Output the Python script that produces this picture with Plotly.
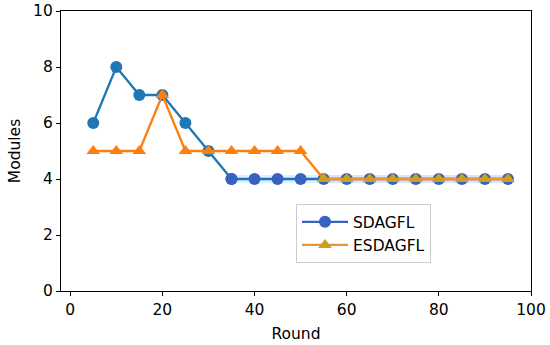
import plotly.graph_objects as go

rounds = [5, 10, 15, 20, 25, 30, 35, 40, 45, 50, 55, 60, 65, 70, 75, 80, 85, 90, 95]
sdagfl = [6, 8, 7, 7, 6, 5, 4, 4, 4, 4, 4, 4, 4, 4, 4, 4, 4, 4, 4]
esdagfl = [5, 5, 5, 7, 5, 5, 5, 5, 5, 5, 4, 4, 4, 4, 4, 4, 4, 4, 4]

BLUE = "#1f77b4"
BLUE2 = "#3862c0"
ORANGE = "#ff7f0e"
ORANGE2 = "#eb9530"
GOLD = "#c9a21a"

i35 = rounds.index(35)
i55 = rounds.index(55)

fig = go.Figure()
# halo glows
fig.add_trace(go.Scatter(x=rounds[i35:], y=sdagfl[i35:], mode="lines",
                         line=dict(color="rgba(120,235,255,0.35)", width=8),
                         showlegend=False, hoverinfo="skip"))
fig.add_trace(go.Scatter(x=rounds[i55:], y=esdagfl[i55:], mode="lines",
                         line=dict(color="rgba(255,185,215,0.35)", width=8),
                         showlegend=False, hoverinfo="skip"))
# SDAGFL
fig.add_trace(go.Scatter(x=rounds[:i35 + 1], y=sdagfl[:i35 + 1], mode="lines+markers",
                         line=dict(color=BLUE, width=2.3),
                         marker=dict(symbol="circle", size=12, color=BLUE),
                         showlegend=False))
fig.add_trace(go.Scatter(x=rounds[i35:], y=sdagfl[i35:], mode="lines+markers",
                         name="SDAGFL",
                         line=dict(color=BLUE2, width=2.3),
                         marker=dict(symbol="circle", size=12, color=BLUE2)))
# ESDAGFL
fig.add_trace(go.Scatter(x=rounds[:i55 + 1], y=esdagfl[:i55 + 1], mode="lines+markers",
                         line=dict(color=ORANGE, width=2.3),
                         marker=dict(symbol="triangle-up", size=12, color=ORANGE),
                         showlegend=False))
fig.add_trace(go.Scatter(x=rounds[i55:], y=esdagfl[i55:], mode="lines+markers",
                         name="ESDAGFL",
                         line=dict(color=ORANGE2, width=2.3),
                         marker=dict(symbol="triangle-up", size=12, color=GOLD)))

axis_common = dict(showline=True, linecolor="black", linewidth=1.2, mirror=True,
                   ticks="outside", ticklen=4, tickcolor="black", showgrid=False,
                   zeroline=False, automargin=False,
                   tickfont=dict(size=15.5, color="black"))

fig.update_layout(
    width=550, height=345,
    margin=dict(l=61, r=19, t=11, b=54),
    paper_bgcolor="white", plot_bgcolor="white",
    font=dict(family="DejaVu Sans", size=15.5, color="black"),
    xaxis=dict(range=[-2, 100], tickvals=[0, 20, 40, 60, 80, 100],
               title=dict(text="Round", font=dict(size=15.5), standoff=10), **axis_common),
    yaxis=dict(range=[0, 10], tickvals=[0, 2, 4, 6, 8, 10],
               title=dict(text="Modules", font=dict(size=15.5), standoff=8), **axis_common),
    legend=dict(x=0.5, y=0.31, xanchor="left", yanchor="top",
                bgcolor="rgba(255,255,255,0.8)", bordercolor="#cccccc", borderwidth=1,
                font=dict(size=15.5), itemwidth=46, tracegroupgap=0),
)

fig.write_html("out.html", post_script="document.body.style.margin='0';",
               config={"displayModeBar": False})
